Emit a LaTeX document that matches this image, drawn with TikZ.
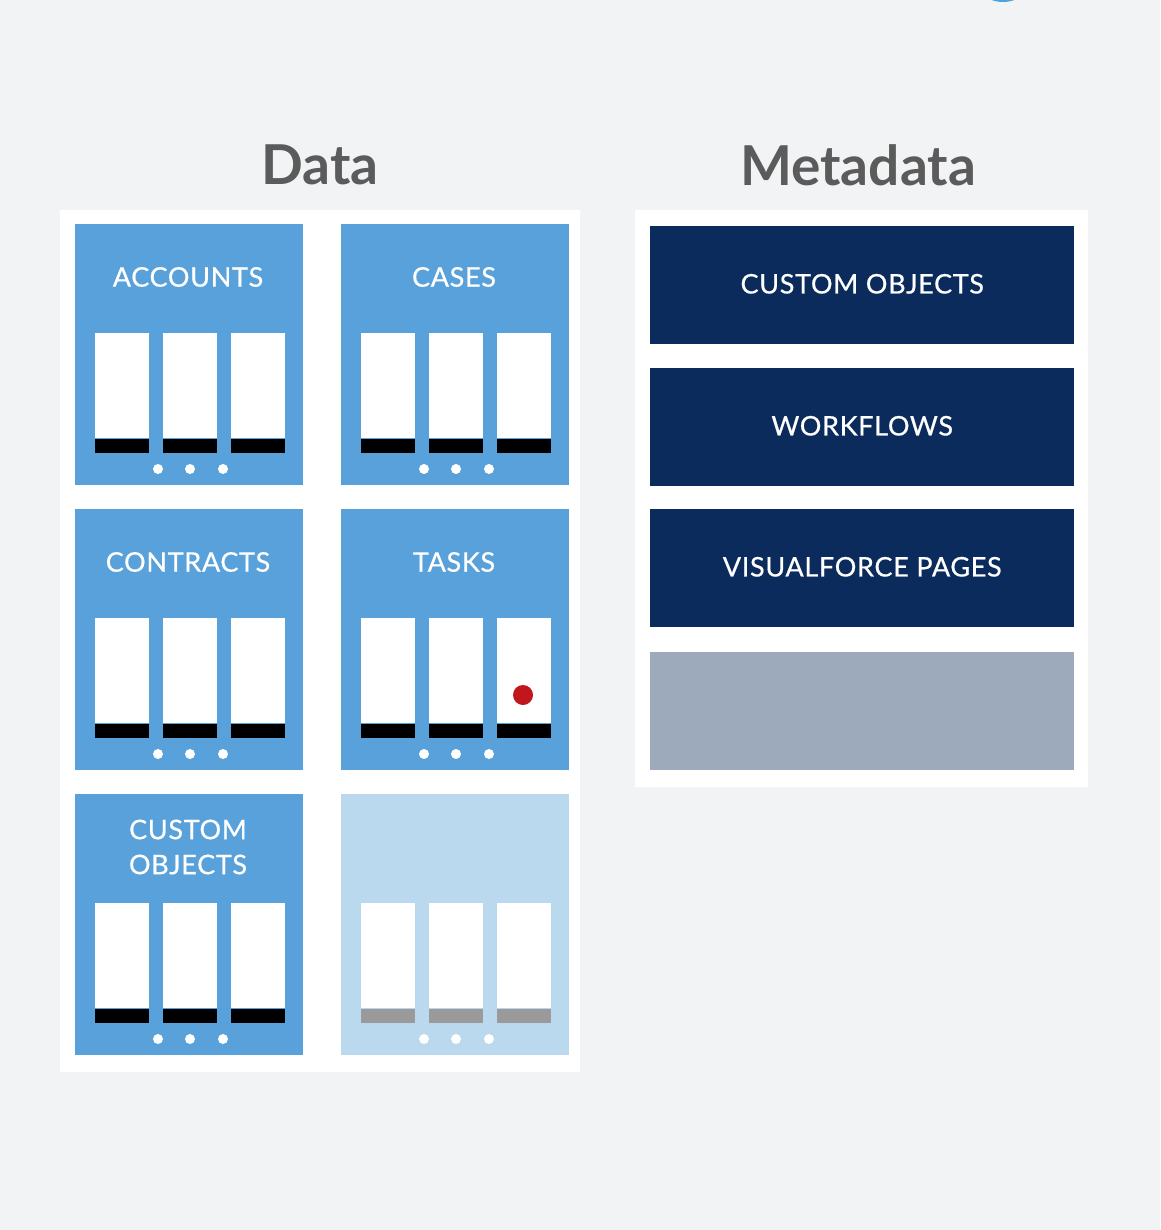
\documentclass[tikz,border=0pt]{standalone}
\usepackage{fontspec}
\setmainfont{Lato}
\newfontfamily\labelfont{Lato}[LetterSpace=2.5, FakeBold=0.6]
\usetikzlibrary{positioning}
\definecolor{pagebg}{HTML}{F2F3F5}
\definecolor{tileblue}{HTML}{59A1DA}
\definecolor{tilefade}{HTML}{BAD8EE}
\definecolor{fadebar}{HTML}{9A9A9A}
\definecolor{navy}{HTML}{0B2B5C}
\definecolor{slate}{HTML}{9DAABC}
\definecolor{headgray}{HTML}{5B5B5B}
\definecolor{dotred}{HTML}{C1161C}
\definecolor{arcblue}{HTML}{4AA3DF}
\tikzset{
    panel/.style={
        fill=white,
        anchor=north west,
        inner sep=0pt
    },
    heading/.style={
        text=headgray,
        font=\bfseries\fontsize{55}{60}\selectfont
    },
    tile/.style={
        anchor=north west,
        minimum width=228pt,
        minimum height=261pt,
        inner sep=0pt
    },
    tiletitle/.style={
        text=white,
        align=center,
        font=\labelfont\fontsize{27}{35}\selectfont
    },
    column/.style={
        fill=white,
        anchor=north,
        minimum width=54pt,
        minimum height=105pt,
        inner sep=0pt
    },
    bar/.style={
        minimum width=54pt,
        minimum height=14pt,
        inner sep=0pt
    },
    dot/.style={
        fill=white,
        circle,
        minimum size=10pt,
        inner sep=0pt
    },
    metabox/.style={
        anchor=north west,
        minimum width=424pt,
        minimum height=118pt,
        inner sep=0pt,
        text=white,
        font=\labelfont\fontsize{27}{34}\selectfont
    }
}
\begin{document}
\begin{tikzpicture}[x=1pt, y=-1pt]
    % Page
    \fill [pagebg] (0,0) rectangle (1160,1230);
    \useasboundingbox (0,0) rectangle (1160,1230);
    \fill [arcblue] (1003,-31) circle (33);

    % Panels
    \node (datapanel) [panel, minimum width=520pt, minimum height=862pt] at (60,210) {};
    \node (metapanel) [panel, minimum width=453pt, minimum height=577pt] at (635,210) {};

    % Headings
    \node (datahead) [heading] at (320,165) {Data};
    \node (metahead) [heading] at (858,165) {Metadata};

    % Data tiles
    \foreach \name/\x/\y/\fillcol/\barcol/\ttl in {
            acc/75/224/tileblue/black/ACCOUNTS,
            cas/341/224/tileblue/black/CASES,
            con/75/509/tileblue/black/CONTRACTS,
            tas/341/509/tileblue/black/TASKS,
            cus/75/794/tileblue/black/{CUSTOM\\OBJECTS},
            spare/341/794/tilefade/fadebar/{}} {
        \node (\name) [tile, fill=\fillcol] at (\x,\y) {};
        \node (\name-title) [tiletitle] at (\x+113,\y+53) {\ttl};
        \foreach \i/\dx in {1/47,2/115,3/183} {
            \node (\name-col\i) [column] at (\x+\dx,\y+109) {};
            \node (\name-bar\i) [bar, fill=\barcol, below=0pt of \name-col\i] {};
        }
        \foreach \i/\dx in {1/83,2/115,3/148}
            \node (\name-dot\i) [dot] at (\x+\dx,\y+245) {};
    }

    % Open task
    \node (taskmark) [dot, fill=dotred, minimum size=20pt] at (523,695) {};

    % Metadata rows
    \foreach \name/\y/\fillcol/\ttl in {
            mobj/226/navy/CUSTOM OBJECTS,
            flow/368/navy/WORKFLOWS,
            vfp/509/navy/VISUALFORCE PAGES,
            mspare/652/slate/{}}
        \node (\name) [metabox, fill=\fillcol, text depth=3pt] at (650,\y) {\ttl};
\end{tikzpicture}
\end{document}
